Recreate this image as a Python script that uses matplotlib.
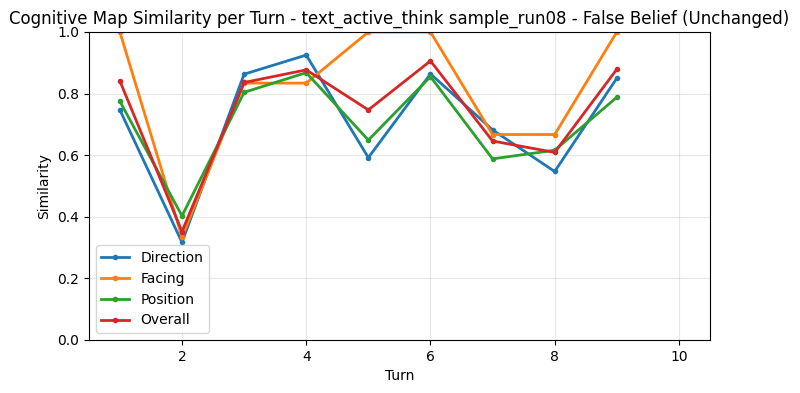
import matplotlib
matplotlib.use("Agg")
import matplotlib.pyplot as plt

turns = [1, 2, 3, 4, 5, 6, 7, 8, 9]
direction = [0.747, 0.317, 0.863, 0.925, 0.592, 0.864, 0.682, 0.547, 0.850]
facing = [1.0, 0.334, 0.834, 0.834, 1.0, 1.0, 0.667, 0.667, 1.0]
position = [0.775, 0.403, 0.804, 0.868, 0.649, 0.855, 0.588, 0.616, 0.788]
overall = [0.841, 0.352, 0.836, 0.877, 0.747, 0.906, 0.646, 0.609, 0.879]

series = [("Direction", direction), ("Facing", facing), ("Position", position), ("Overall", overall)]

fig, ax = plt.subplots(figsize=(8, 3.93), dpi=100)
for name, vals in series:
    ax.plot(turns, vals, marker='o', markersize=3, linewidth=2, label=name)

ax.set_xlim(0.5, 10.5)
ax.set_ylim(0, 1.0)
ax.set_xticks([2, 4, 6, 8, 10])
ax.set_xlabel("Turn")
ax.set_ylabel("Similarity")
ax.set_title("Cognitive Map Similarity per Turn - text_active_think sample_run08 - False Belief (Unchanged)")
ax.grid(True, alpha=0.3)
ax.legend(loc='lower left')
fig.subplots_adjust(left=0.111, right=0.8875, top=0.9186, bottom=0.135)
fig.savefig("out.png")
